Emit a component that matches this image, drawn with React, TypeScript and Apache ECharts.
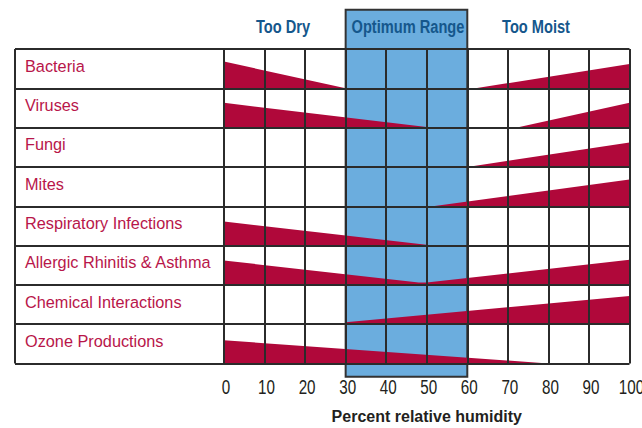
import React, { useEffect, useRef } from "react";
import * as echarts from "echarts";

// ---- data ----
const categories = [
  "Bacteria",
  "Viruses",
  "Fungi",
  "Mites",
  "Respiratory Infections",
  "Allergic Rhinitis & Asthma",
  "Chemical Interactions",
  "Ozone Productions",
];

// wedge outlines per row: [percent relative humidity, height as share of the row]
const bacteria = [[[0, 0.68], [30, 0]], [[62, 0], [100, 0.62]]];
const viruses = [[[0, 0.63], [51.5, 0]], [[72, 0], [100, 0.63]]];
const fungi = [[[60, 0], [100, 0.62]]];
const mites = [[[51.5, 0], [100, 0.68]]];
const respiratory = [[[0, 0.61], [51.5, 0]]];
const allergic = [[[0, 0.62], [48, 0.06], [50, 0.06], [100, 0.64]]];
const chemical = [[[30, 0.05], [100, 0.72]]];
const ozone = [[[0, 0.59], [80, 0]]];

const rowWedges = [bacteria, viruses, fungi, mites, respiratory, allergic, chemical, ozone];

const humidityTicks = [0, 10, 20, 30, 40, 50, 60, 70, 80, 90, 100];
const optimumRange = [30, 60];
const zoneLabels = ["Too Dry", "Optimum Range", "Too Moist"];
const axisTitle = "Percent relative humidity";

// ---- styles / layout ----
const LINE = "#2b2b2b";
const RED = "#b0083a";
const BLUE = "#6badde";
const LABEL_RED = "#b8164a";
const HEAD_BLUE = "#15578c";
const DARK = "#231f20";
const REG = "'Liberation Sans', Arial, sans-serif";

const GRID_TOP = 49;
const GRID_H = 314.5;
const BOX_TOP = -1.0; // in row units (above the table)
const BOX_BOTTOM = 8.34;

const wedgeList: { row: number; pts: number[][] }[] = [];
rowWedges.forEach((w, row) => w.forEach((pts) => wedgeList.push({ row, pts })));

export default function App() {
  const ref = useRef<HTMLDivElement>(null);

  useEffect(() => {
    document.body.style.margin = "0";
    const chart = echarts.init(ref.current!, null, { renderer: "svg" });

    const option: any = {
      animation: false,
      backgroundColor: "#ffffff",
      grid: [
        { left: 15, top: GRID_TOP, width: 209, height: GRID_H, outerBoundsMode: "none" },
        { left: 224, top: GRID_TOP, width: 405.5, height: GRID_H, outerBoundsMode: "none" },
      ],
      xAxis: [
        {
          gridIndex: 0,
          type: "value",
          min: 0,
          max: 1,
          interval: 1,
          z: 10,
          axisLine: { show: false },
          axisTick: { show: false },
          axisLabel: { show: false },
          splitLine: { show: true, lineStyle: { color: LINE, width: 2 } },
        },
        {
          gridIndex: 1,
          type: "value",
          min: 0,
          max: 100,
          interval: 10,
          z: 10,
          axisLine: { show: false },
          axisTick: { show: false },
          axisLabel: { show: false },
          splitLine: { show: true, lineStyle: { color: LINE, width: 2 } },
          name: axisTitle,
          nameLocation: "middle",
          nameGap: 45,
          nameTextStyle: {
            color: DARK,
            fontSize: 16,
            fontWeight: "bold",
            fontFamily: REG,
          },
        },
      ],
      yAxis: [
        {
          gridIndex: 0,
          type: "category",
          data: categories,
          inverse: true,
          z: 10,
          axisLine: { show: false },
          axisTick: { show: false },
          axisLabel: {
            show: true,
            inside: true,
            align: "left",
            margin: 10,
            formatter: "{t|{value}}",
            rich: {
              t: {
                color: LABEL_RED,
                fontSize: 16.3,
                fontFamily: REG,
                padding: [0, 0, 6, 0],
              },
            },
          },
          splitLine: { show: true, interval: 0, lineStyle: { color: LINE, width: 2 } },
        },
        {
          gridIndex: 1,
          type: "value",
          min: 0,
          max: 8,
          interval: 1,
          inverse: true,
          z: 10,
          axisLine: { show: false },
          axisTick: { show: false },
          axisLabel: { show: false },
          splitLine: { show: true, lineStyle: { color: LINE, width: 2 } },
        },
      ],
      series: [
        {
          type: "custom",
          xAxisIndex: 1,
          yAxisIndex: 1,
          z: 1,
          clip: false,
          data: [optimumRange],
          renderItem: (params: any, api: any) => {
            const p0 = api.coord([api.value(0), BOX_TOP]);
            const p1 = api.coord([api.value(1), BOX_BOTTOM]);
            return {
              type: "rect",
              shape: { x: p0[0], y: p0[1], width: p1[0] - p0[0], height: p1[1] - p0[1] },
              style: { fill: BLUE, stroke: "#333333", lineWidth: 2 },
            };
          },
        },
        {
          type: "custom",
          xAxisIndex: 1,
          yAxisIndex: 1,
          z: 2,
          clip: false,
          data: wedgeList.map((w) => [w.pts[0][0], w.row]),
          renderItem: (params: any, api: any) => {
            const w = wedgeList[params.dataIndex];
            const base = w.row + 1;
            const first = w.pts[0][0];
            const last = w.pts[w.pts.length - 1][0];
            const points = [
              api.coord([first, base]),
              ...w.pts.map(([x, h]) => api.coord([x, base - h])),
              api.coord([last, base]),
            ];
            return {
              type: "polygon",
              shape: { points },
              style: { fill: RED },
            };
          },
        },
        {
          // condensed tick labels of the humidity axis
          type: "custom",
          xAxisIndex: 1,
          yAxisIndex: 1,
          z: 5,
          clip: false,
          data: humidityTicks.map((v) => [v, 8]),
          renderItem: (params: any, api: any) => {
            const p = api.coord([api.value(0), api.value(1)]);
            return {
              type: "text",
              x: p[0] + 2,
              y: p[1] + 14,
              scaleX: 0.78,
              style: {
                text: String(api.value(0)),
                fill: DARK,
                font: `19.5px ${REG}`,
                textAlign: "center",
                textVerticalAlign: "top",
              },
            };
          },
        },
      ],
      graphic: [
        { x: 283, y: 27 },
        { x: 408, y: 27 },
        { x: 536, y: 27 },
      ].map((p, i) => ({
        type: "text",
        x: p.x,
        y: p.y,
        scaleX: 0.77,
        z: 20,
        style: {
          text: zoneLabels[i],
          fill: HEAD_BLUE,
          font: `bold 19px ${REG}`,
          textAlign: "center",
          textVerticalAlign: "middle",
        },
      })),
    };

    chart.setOption(option);
    return () => chart.dispose();
  }, []);

  return <div ref={ref} style={{ width: 642, height: 428 }} />;
}
